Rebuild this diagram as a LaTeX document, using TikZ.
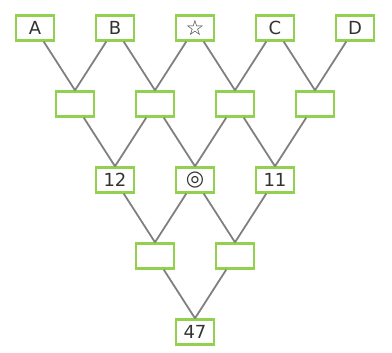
\documentclass[tikz,border=0pt]{standalone}
\usepackage{fontspec}
\setmainfont{DejaVu Sans}
\definecolor{boxgreen}{RGB}{146,208,80}
\definecolor{linkgray}{RGB}{128,128,128}
\tikzset{
  cell/.style={draw=boxgreen, line width=2.4pt, fill=white, minimum width=38pt,
    minimum height=25pt, inner sep=0pt, font=\fontsize{18}{18}\selectfont, text=black!80},
  mark cell/.style={cell, font=\fontsize{21}{21}\selectfont},
  link/.style={draw=linkgray, line width=1.8pt}
}
\begin{document}
\begin{tikzpicture}[x=1pt,y=-1pt]
    \useasboundingbox (0,0) rectangle (392,353);
    % top row
    \node[cell] (a) at (35,28) {A};
    \node[cell] (b) at (115,28) {B};
    \node[mark cell] (star) at (195,28) {☆};
    \node[cell] (c) at (275,28) {C};
    \node[cell] (d) at (355,28) {D};
    % second row
    \foreach \n/\x in {ab/75,bs/155,sc/235,cd/315}
        \node[cell] (\n) at (\x,104) {};
    % third row
    \node[cell] (twelve) at (115,180) {12};
    \node[mark cell] (ring) at (195,180) {◎};
    \node[cell] (eleven) at (275,180) {11};
    % fourth row
    \node[cell] (left) at (155,256) {};
    \node[cell] (right) at (235,256) {};
    % bottom
    \node[cell] (total) at (195,332) {47};
    % links
    \foreach \u/\v in {a/ab,b/ab,b/bs,star/bs,star/sc,c/sc,c/cd,d/cd,
                       ab/twelve,bs/twelve,bs/ring,sc/ring,sc/eleven,cd/eleven,
                       twelve/left,ring/left,ring/right,eleven/right,
                       left/total,right/total}
        \draw[link] (\u) -- (\v.north);
\end{tikzpicture}
\end{document}
